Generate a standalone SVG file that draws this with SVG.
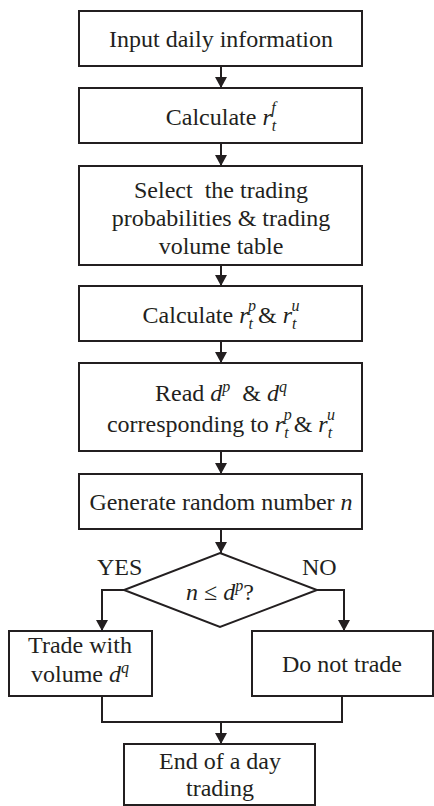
<svg xmlns="http://www.w3.org/2000/svg" width="434" height="806" viewBox="0 0 434 806">
<defs>
<style>
.box{fill:#fff;stroke:#231f20;stroke-width:2}
.ln{fill:none;stroke:#231f20;stroke-width:2}
.t{font-family:"Liberation Serif","DejaVu Serif",serif;font-size:24px;fill:#231f20;text-anchor:middle}
.m{font-style:italic}
.s{font-style:italic;font-size:16px}
.lbl{text-anchor:start}
</style>
<marker id="ah" markerUnits="userSpaceOnUse" markerWidth="12" markerHeight="12" refX="11" refY="6" orient="auto">
<path d="M0,0 L11,6 L0,12 z" fill="#231f20"/>
</marker>
</defs>
<rect width="434" height="806" fill="#fff"/>
<g id="connectors">
<path class="ln" d="M221,66 V88" marker-end="url(#ah)"/>
<path class="ln" d="M221,143 V166" marker-end="url(#ah)"/>
<path class="ln" d="M221,265 V286" marker-end="url(#ah)"/>
<path class="ln" d="M221,341 V363" marker-end="url(#ah)"/>
<path class="ln" d="M221,451 V474" marker-end="url(#ah)"/>
<path class="ln" d="M221,529 V553" marker-end="url(#ah)"/>
<path class="ln" d="M124,590 H102 V631" marker-end="url(#ah)"/>
<path class="ln" d="M317,590 H344 V631" marker-end="url(#ah)"/>
<path class="ln" d="M102,696 V722 H342 V696"/>
<path class="ln" d="M221,722 V744" marker-end="url(#ah)"/>
</g>
<g id="n1"><rect class="box" x="79" y="11" width="283" height="55"/><text class="t" x="221" y="47">Input daily information</text></g>
<g id="n2"><rect class="box" x="79" y="88" width="283" height="55"/><text class="t" x="221" y="125">Calculate <tspan class="m">r</tspan><tspan class="s" dy="6">t</tspan><tspan class="s" dx="-5" dy="-18">f</tspan></text></g>
<g id="n3"><rect class="box" x="79" y="166" width="283" height="99"/><text class="t" x="221" y="198" xml:space="preserve">Select  the trading</text><text class="t" x="221" y="226">probabilities &amp; trading</text><text class="t" x="221" y="254">volume table</text></g>
<g id="n4"><rect class="box" x="79" y="286" width="283" height="55"/><text class="t" x="221" y="323">Calculate <tspan class="m">r</tspan><tspan class="s" dy="6">t</tspan><tspan class="s" dx="-5" dy="-18">p</tspan><tspan dx="2" dy="12">&amp; </tspan><tspan class="m">r</tspan><tspan class="s" dy="6">t</tspan><tspan class="s" dx="-5" dy="-18">u</tspan></text></g>
<g id="n5"><rect class="box" x="79" y="363" width="283" height="88"/><text class="t" x="221" y="401" xml:space="preserve">Read <tspan class="m">d</tspan><tspan class="s" dy="-9">p</tspan><tspan dy="9">  &amp; </tspan><tspan class="m">d</tspan><tspan class="s" dy="-9">q</tspan></text><text class="t" x="221" y="432">corresponding to <tspan class="m">r</tspan><tspan class="s" dy="6">t</tspan><tspan class="s" dx="-5" dy="-18">p</tspan><tspan dx="2" dy="12">&amp; </tspan><tspan class="m">r</tspan><tspan class="s" dy="6">t</tspan><tspan class="s" dx="-5" dy="-18">u</tspan></text></g>
<g id="n6"><rect class="box" x="79" y="474" width="283" height="55"/><text class="t" x="221" y="510">Generate random number <tspan class="m">n</tspan></text></g>
<g id="n7"><path class="box" d="M220,553 L317,590 L220,627 L124,590 z"/><text class="t" x="220" y="600"><tspan class="m">n</tspan> ≤ <tspan class="m">d</tspan><tspan class="s" dy="-9">p</tspan><tspan dy="9">?</tspan></text></g>
<g id="l1"><text class="t lbl" x="97" y="575">YES</text></g>
<g id="l2"><text class="t lbl" x="302" y="575">NO</text></g>
<g id="n8"><rect class="box" x="9" y="631" width="143" height="65"/><text class="t" x="80" y="653">Trade with</text><text class="t" x="80" y="682">volume <tspan class="m">d</tspan><tspan class="s" dy="-9">q</tspan></text></g>
<g id="n9"><rect class="box" x="252" y="631" width="181" height="65"/><text class="t" x="342" y="672">Do not trade</text></g>
<g id="n10"><rect class="box" x="124" y="744" width="191" height="61"/><text class="t" x="220" y="769">End of a day</text><text class="t" x="220" y="796">trading</text></g>
</svg>
